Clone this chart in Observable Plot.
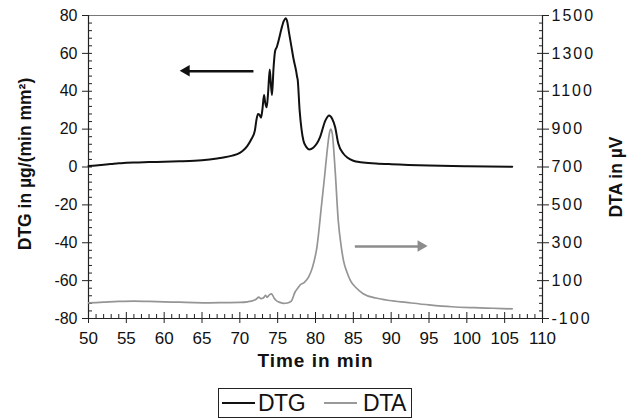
<!DOCTYPE html>
<html><head><meta charset="utf-8">
<script src="https://cdn.jsdelivr.net/npm/d3@7"></script>
<script src="https://cdn.jsdelivr.net/npm/@observablehq/plot@0.6"></script>
<style>
body{margin:0;background:#fff;}
#wrap{position:relative;width:627px;height:418px;font-family:'Liberation Sans',Arial,Helvetica,sans-serif;}
#legend{position:absolute;left:218px;top:388px;width:194px;height:30px;box-sizing:border-box;border:1.5px solid #222;display:flex;align-items:center;font-size:23px;color:#111;letter-spacing:-0.5px;line-height:1;}
#legend .sw{display:inline-block;height:2.5px;width:33px;}
</style>
</head><body>
<div id="wrap"></div>
<script>
// DTG series (µg/(min mm²)) vs time (min)
const dtgTime = [50,51,52,53,54,55,56,58,60,62,64,66,67,68,69,70,70.5,71,71.5,72,72.2,72.4,72.6,72.8,73.0,73.2,73.35,73.55,73.75,73.95,74.1,74.25,74.45,74.65,74.9,75.2,75.5,75.8,76.05,76.25,76.5,76.8,77.1,77.45,77.55,77.65,77.9,78.15,78.4,78.8,79.2,79.7,80.2,80.6,81.3,81.8,82.2,82.6,83.0,83.7,84.2,85,86,88,90,95,100,106];
const dtgValue = [0.5,0.8,1.2,1.6,2.0,2.2,2.4,2.6,2.8,3.0,3.3,4.0,4.5,5.1,6.0,7.5,9.0,11.2,14.5,19.5,25,28,27.5,26,31,38,34,31.5,40,51.5,44,38,52,61,63.5,68,73,77,78.6,77,71,64,57,50.5,48,46,30,20,14,10.5,9.3,10.2,12.5,15.8,24.5,27.2,25.5,21,12.5,7,5,3.3,2.5,1.9,1.5,0.8,0.4,0.1];
// DTA series (µV) vs time (min)
const dtaTime = [50,52,54,56,58,60,62,64,66,68,70,71,71.8,72.2,72.5,72.8,73.1,73.4,73.6,73.9,74.2,74.5,74.8,75.3,75.8,76.3,76.8,77.3,77.7,78.0,78.5,79.1,79.6,80.2,80.8,81.2,81.5,81.8,82.0,82.2,82.6,83.0,83.4,83.7,84.2,84.6,85.3,86.3,88,89.8,92,95,98,101,103.5,106];
const dtaValue = [-18,-14,-10,-8,-10,-12,-14,-16,-17,-16,-15,-12,-5,3,13,5,8,22,12,25,30,10,-5,-15,-20,-18,-8,40,62,78,90,120,170,280,500,650,770,870,900,880,680,420,280,206,140,101,65,31,8,-5,-15,-28,-38,-43,-46,-49];

// axes
const xTicks = [50,55,60,65,70,75,80,85,90,95,100,105,110];
const dtgTicks = [-80,-60,-40,-20,0,20,40,60,80];
const dtaTicks = [-100,100,300,500,700,900,1100,1300,1500];
const xMinor = d3.range(50,111,1).filter(v => v % 5 !== 0);
const yMinor = d3.range(-80,81,4).filter(v => v % 20 !== 0);

// annotation arrows
const arrowSeries = ["DTG","DTA"];
const arrowTail = [71.8, 85.2];
const arrowTip = [63.0, 94.0];
const arrowLevel = [50.6, 280]; // DTG units for DTG arrow, µV for DTA arrow

const labels = {x:"Time in min", yLeft:"DTG in µg/(min mm²)", yRight:"DTA in µV"};

// DTA is drawn on the DTG scale: -100..1500 µV ↔ -80..80
const dtaToY = v => v / 10 - 70;

const dtg = dtgTime.map((t,i) => ({t, v: dtgValue[i]}));
const dta = dtaTime.map((t,i) => ({t, v: dtaToY(dtaValue[i])}));
const arrows = arrowSeries.map((s,i) => ({
  s, x1: arrowTail[i], x2: arrowTip[i],
  y: s === "DTA" ? dtaToY(arrowLevel[i]) : arrowLevel[i],
  color: s === "DTA" ? "#8c8c8c" : "#111",
  rot: arrowTip[i] < arrowTail[i] ? -90 : 90,
  off: arrowTip[i] < arrowTail[i] ? 6.5 : -6.5
}));

const axisCol = "#222";
const svg = Plot.plot({
  width: 627, height: 382,
  marginLeft: 88, marginRight: 85, marginTop: 15, marginBottom: 64,
  x: {domain: [50,110]},
  y: {domain: [-80,80]},
  style: {fontFamily: "'Liberation Sans', Arial, Helvetica, sans-serif", color: "#111", background: "#fff", overflow: "visible"},
  marks: [
    // x axis
    Plot.axisX({ticks: xTicks, tickSize: 5, tickPadding: 8, fontSize: 17, label: null, stroke: axisCol, tickFormat: d => String(d)}),
    Plot.axisX({ticks: xTicks, tickSize: -6, fill: "none", label: null, stroke: axisCol}),
    Plot.axisX({ticks: xMinor, tickSize: -4, fill: "none", label: null, stroke: axisCol}),
    // left axis
    Plot.axisY({ticks: dtgTicks, anchor: "left", tickSize: 6, tickPadding: 5, fontSize: 16, label: null, stroke: axisCol, tickFormat: d => String(d)}),
    Plot.axisY({ticks: dtgTicks, anchor: "left", tickSize: -4, fill: "none", label: null, stroke: axisCol}),
    Plot.axisY({ticks: yMinor, anchor: "left", tickSize: -4, fill: "none", label: null, stroke: axisCol}),
    // right axis (DTA)
    Plot.axisY({ticks: dtgTicks, anchor: "right", tickSize: 6, tickPadding: 3, fontSize: 16, label: null, stroke: axisCol,
      tickFormat: (d) => String(dtaTicks[dtgTicks.indexOf(d)])}),
    Plot.axisY({ticks: dtgTicks, anchor: "right", tickSize: -6, fill: "none", label: null, stroke: axisCol}),
    Plot.axisY({ticks: yMinor, anchor: "right", tickSize: -4, fill: "none", label: null, stroke: axisCol}),
    // frame lines
    Plot.ruleY([80], {stroke: "#777", strokeWidth: 1.2}),
    Plot.ruleY([-80], {stroke: axisCol, strokeWidth: 1.2}),
    Plot.ruleX([50, 110], {stroke: axisCol, strokeWidth: 1.2}),
    // series
    Plot.line(dta, {x: "t", y: "v", stroke: "#959595", strokeWidth: 1.7, curve: "monotone-x"}),
    Plot.line(dtg, {x: "t", y: "v", stroke: "#111", strokeWidth: 2, curve: "monotone-x"}),
    // arrows
    Plot.link(arrows, {x1: "x1", x2: "x2", y1: "y", y2: "y", stroke: "color", strokeWidth: 2.5}),
    Plot.dot(arrows, {x: "x2", y: "y", symbol: "triangle", r: 4.3, fill: "color", stroke: "none", rotate: "rot", dx: "off"}),
    // axis titles
    Plot.text([labels.x], {frameAnchor: "bottom", textAnchor: "middle", dy: 48, fontSize: 19, fontWeight: "bold", fill: "#111"}),
    Plot.text([labels.yLeft], {frameAnchor: "left", textAnchor: "middle", rotate: -90, dx: -63, dy: -3, fontSize: 17.5, fontWeight: "bold", fill: "#111"}),
    Plot.text([labels.yRight], {frameAnchor: "right", textAnchor: "middle", rotate: -90, dx: 74, dy: 10, fontSize: 17.5, fontWeight: "bold", fill: "#111"})
  ]
});

// widen the horizontal title and right tick labels a little (reference glyphs are stretched)
svg.querySelectorAll('g[aria-label="y-axis tick label"]').forEach(g => {
  if (g.getAttribute("text-anchor") === "start") g.style.letterSpacing = "2px";
});
svg.querySelectorAll('g[aria-label="text"] text').forEach(t => {
  if (t.textContent === labels.x) t.style.letterSpacing = "1px";
});

const wrap = document.getElementById("wrap");
wrap.appendChild(svg);
const legend = document.createElement("div");
legend.id = "legend";
legend.innerHTML =
  '<span class="sw" style="background:#111;margin-left:3px;margin-right:3px"></span><span>DTG</span>' +
  '<span class="sw" style="background:#999;margin-left:19px;margin-right:6px"></span><span>DTA</span>';
wrap.appendChild(legend);
</script>
</body></html>
